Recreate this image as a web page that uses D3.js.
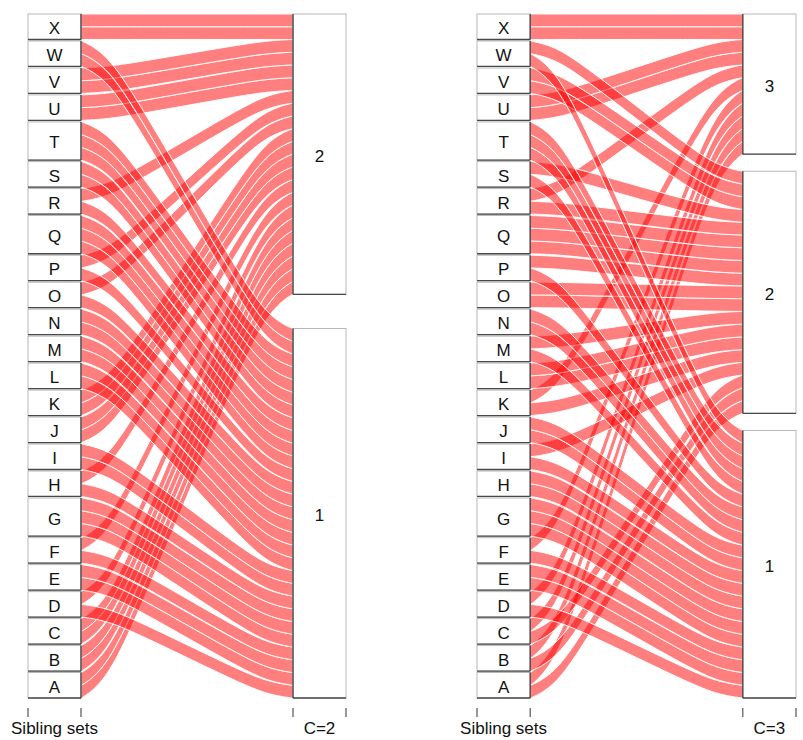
<!DOCTYPE html>
<html>
<head>
<meta charset="utf-8">
<script src="https://cdn.jsdelivr.net/npm/d3@7"></script>
<style>
  body { margin: 0; background: #fff; }
  text { font-family: "Liberation Sans", Arial, Helvetica, sans-serif; fill: #111; }
</style>
</head>
<body>
<svg id="chart" width="803" height="740"></svg>
<script>
// Sibling sets (bottom to top)
const siblingSets = ["A","B","C","D","E","F","G","H","I","J","K","L",
                     "M","N","O","P","Q","R","S","T","U","V","W","X"];

// One entry per individual: its sibling set and its cluster for C=2 and C=3
const memberSet = [
  "A","A","B","B","C","C","D","D","E","E","F","F","G","G","G","H","H",
  "I","I","J","J","K","K","L","L","M","M","N","N","O","O","P","P",
  "Q","Q","Q","R","R","S","S","T","T","T","U","U","V","V","W","W","X","X"];
const clusterC2 = [
  2,2, 2,2, 2,2, 2,1, 1,1, 2,1, 1,1,1, 2,1,
  1,1, 2,2, 2,2, 1,1, 1,1, 1,1, 2,1, 2,1,
  1,1,1, 2,1, 1,1, 1,1,1, 2,2, 2,2, 1,1, 2,2];
const clusterC3 = [
  3,2, 3,2, 3,2, 3,1, 1,1, 3,1, 1,1,1, 1,1,
  2,1, 1,1, 3,2, 2,2, 2,1, 1,1, 2,2, 2,1,
  2,2,2, 3,2, 2,1, 1,1,1, 3,3, 2,2, 2,1, 3,3];

const clusterLevelsC2 = [1, 2];
const clusterLevelsC3 = [1, 2, 3];
const axisTitles = ["Sibling sets", "C=2", "C=3"];

const gapWidth = 0.05;   // total vertical share given to gaps on each axis
const boxHalf = 0.1;     // half-width of an axis box
const splineReach = 0.1; // horizontal reach of the x-spline control points

const svg = d3.select("#chart");

// --- alluvial stripe layout for one axis -----------------------------------
function stripeLayout(primary, primaryLevels, secondary, secondaryLevels) {
  const n = primary.length;
  const order = d3.range(n).sort((a, b) =>
    (primaryLevels.indexOf(primary[a]) - primaryLevels.indexOf(primary[b])) ||
    (secondaryLevels.indexOf(secondary[a]) - secondaryLevels.indexOf(secondary[b])) ||
    (a - b));
  let groups = 0;
  const gi = order.map((r, k) => {
    if (k > 0 && primary[r] !== primary[order[k - 1]]) groups++;
    return groups;
  });
  const mx = groups || 1;
  const out = new Array(n);
  order.forEach((r, k) => {
    const shift = gi[k] / mx * gapWidth;
    out[r] = [k / n * (1 - gapWidth) + shift, (k + 1) / n * (1 - gapWidth) + shift];
  });
  return out;
}

// --- X-spline (Blanc & Schlick) with non-negative shapes, closed -------------
function fBlend(num, den) {
  const p = 2 * den * den;
  const u = num / den;
  return u * u * u * (10 - p + (2 * p - 15) * u + (6 - p) * u * u);
}
function closedXspline(pts, shapes, steps) {
  const n = pts.length, out = [];
  for (let k = 0; k < n; k++) {
    const p0 = pts[(k - 1 + n) % n], p1 = pts[k], p2 = pts[(k + 1) % n], p3 = pts[(k + 2) % n];
    const s1 = shapes[k], s2 = shapes[(k + 1) % n];
    for (let i = 0; i < steps; i++) {
      const t = i / steps;
      const A0 = t < s1 ? fBlend(t - s1, -1 - s1) : 0;
      const A2 = fBlend(t + s1, 1 + s1);
      const A1 = fBlend(t - 1 - s2, -1 - s2);
      const A3 = t > 1 - s2 ? fBlend(t - 1 + s2, 1 + s2) : 0;
      const w = A0 + A1 + A2 + A3;
      out.push([(A0 * p0[0] + A1 * p1[0] + A2 * p2[0] + A3 * p3[0]) / w,
                (A0 * p0[1] + A1 * p1[1] + A2 * p2[1] + A3 * p3[1]) / w]);
    }
  }
  return out;
}

// --- one alluvial panel ------------------------------------------------------
function drawPanel(x0, x1, clusters, clusterLevels, title) {
  const g = svg.append("g");
  const x = d3.scaleLinear().domain([1 - boxHalf, 2 + boxHalf]).range([x0, x1]);
  const y = d3.scaleLinear().domain([0, 1]).range([698, 14]);

  const left = stripeLayout(memberSet, siblingSets, clusters, clusterLevels);
  const right = stripeLayout(clusters, clusterLevels, memberSet, siblingSets);

  const L = x(1 + boxHalf), R = x(2 - boxHalf);
  const xw = x(1 + boxHalf + splineReach) - L;
  const shapes = [0, 0, 1, 1, 0, 0, 1, 1, 0];

  // ribbons
  const ribbons = g.append("g");
  d3.range(memberSet.length).forEach(i => {
    const yb1 = y(left[i][0]), yt1 = y(left[i][1]);
    const yb2 = y(right[i][0]), yt2 = y(right[i][1]);
    const pts = [[L, yb1], [L, yt1], [L + xw, yt1], [R - xw, yt2], [R, yt2],
                 [R, yb2], [R - xw, yb2], [L + xw, yb1], [L, yb1]];
    const poly = closedXspline(pts, shapes, 40);
    ribbons.append("path")
      .attr("d", d3.line()(poly) + "Z")
      .attr("fill", "rgba(255,0,0,0.5)")
      .attr("stroke", "#fff")
      .attr("stroke-width", 1);
  });

  // axis boxes
  function boxes(levels, values, stripes, xc, ribbonSide) {
    const bx0 = x(xc - boxHalf), bx1 = x(xc + boxHalf);
    levels.forEach(lv => {
      const idx = d3.range(values.length).filter(i => values[i] === lv);
      if (!idx.length) return;
      const lo = d3.min(idx, i => stripes[i][0]), hi = d3.max(idx, i => stripes[i][1]);
      const top = y(hi), bot = y(lo);
      g.append("rect").attr("x", bx0).attr("y", top).attr("width", bx1 - bx0)
        .attr("height", bot - top).attr("fill", "#fff")
        .attr("stroke", "#b8b8b8").attr("stroke-width", 1);
      g.append("line").attr("x1", bx0).attr("x2", bx1).attr("y1", bot).attr("y2", bot)
        .attr("stroke", "#4a4a4a").attr("stroke-width", 1.3);
      const sx = ribbonSide === "right" ? bx1 : bx0;
      g.append("line").attr("x1", sx).attr("x2", sx).attr("y1", top).attr("y2", bot)
        .attr("stroke", "#333").attr("stroke-width", 1.2);
      g.append("text").attr("x", (bx0 + bx1) / 2).attr("y", (top + bot) / 2 + 7.5)
        .attr("text-anchor", "middle").attr("font-size", 17).text(lv);
    });
  }
  boxes(siblingSets, memberSet, left, 1, "right");
  boxes(clusterLevels, clusters, right, 2, "left");

  // bottom axis: ticks at the box edges, titles centred
  [1, 2].forEach((c, j) => {
    [c - boxHalf, c + boxHalf].forEach(t => {
      g.append("line").attr("x1", x(t)).attr("x2", x(t)).attr("y1", 708).attr("y2", 717)
        .attr("stroke", "#333").attr("stroke-width", 1);
    });
    g.append("text").attr("x", x(c)).attr("y", 734).attr("text-anchor", "middle")
      .attr("font-size", 17).text(j === 0 ? axisTitles[0] : title);
  });
}

drawPanel(28, 346, clusterC2, clusterLevelsC2, axisTitles[1]);
drawPanel(477, 796, clusterC3, clusterLevelsC3, axisTitles[2]);
</script>
</body>
</html>
